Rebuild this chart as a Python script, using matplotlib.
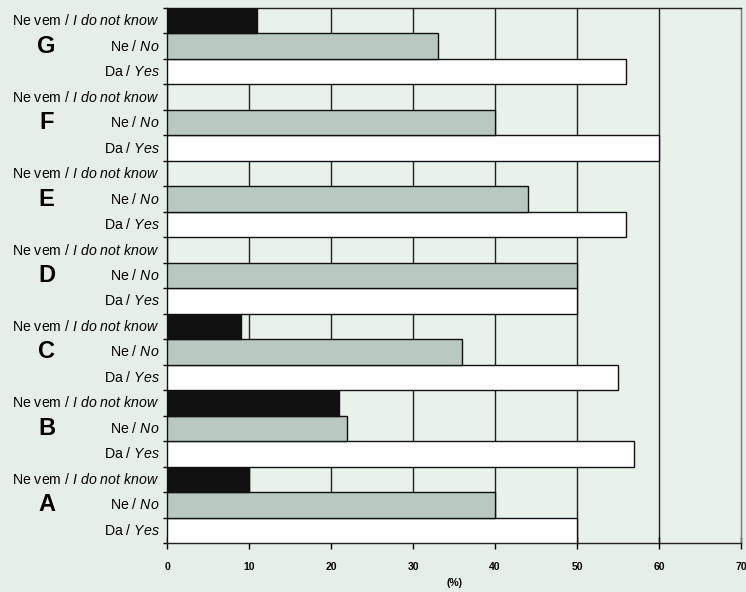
import matplotlib
matplotlib.use("Agg")
import matplotlib.pyplot as plt
import numpy as np

plt.rcParams['font.family'] = ['Liberation Sans', 'DejaVu Sans']
plt.rcParams['mathtext.fontset'] = 'custom'
plt.rcParams['mathtext.rm'] = 'Liberation Sans'
plt.rcParams['mathtext.it'] = 'Liberation Sans:italic'

groups = ["A", "B", "C", "D", "E", "F", "G"]
answers = ["Da / $\\mathit{Yes}$", "Ne / $\\mathit{No}$", "Ne vem / $\\mathit{I\\ do\\ not\\ know}$"]
yes_vals = [50, 57, 55, 50, 56, 60, 56]
no_vals = [40, 22, 36, 50, 44, 40, 33]
dk_vals = [10, 21, 9, 0, 0, 0, 11]
xticks = [0, 10, 20, 30, 40, 50, 60, 70]

bg = "#e5efe7"
colors = ["#ffffff", "#b9c8c1", "#111111"]

fig = plt.figure(figsize=(7.46, 5.92), dpi=100, facecolor=bg)
ax = fig.add_axes([0.2239, 0.0828, 0.7694, 0.9037])
ax.set_facecolor("#e8f1ea")

series = [yes_vals, no_vals, dk_vals]
n = len(groups)
for gi in range(n):
    for si in range(3):
        y = gi * 3 + si
        v = series[si][gi]
        ax.barh(y, v, height=1.0, color=colors[si], edgecolor="#111111",
                linewidth=1.0, zorder=3)

for x in xticks[1:-1]:
    ax.axvline(x, color="#222222", linewidth=1.0, zorder=1)

ax.set_xlim(0, 70)
ax.set_ylim(-0.5, 3 * n - 0.5)
ax.set_xticks(xticks)
ax.set_xticklabels([str(t) for t in xticks], fontsize=7.5, fontweight="bold")
ax.tick_params(axis="x", direction="inout", length=8, width=1.0, pad=10)
ax.set_yticks(np.arange(-0.5, 3 * n, 1.0))
ax.set_yticklabels([])
ax.tick_params(axis="y", direction="out", length=3, width=1.0)
for s in ax.spines.values():
    s.set_color("#222222")
    s.set_linewidth(1.0)
ax.spines["right"].set_color("#777777")
ax.set_xlabel("(%)", fontsize=7.5, fontweight="bold", labelpad=4)

trans = ax.get_yaxis_transform()
for gi in range(n):
    for si in range(3):
        y = gi * 3 + si
        ax.text(-0.013, y, answers[si], transform=trans, ha="right", va="center",
                fontsize=10.2)
    ax.text(-0.21, gi * 3 + 1, groups[gi], transform=trans, ha="center",
            va="center", fontsize=17, fontweight="bold")

fig.savefig("out.png", dpi=100, facecolor=bg)
